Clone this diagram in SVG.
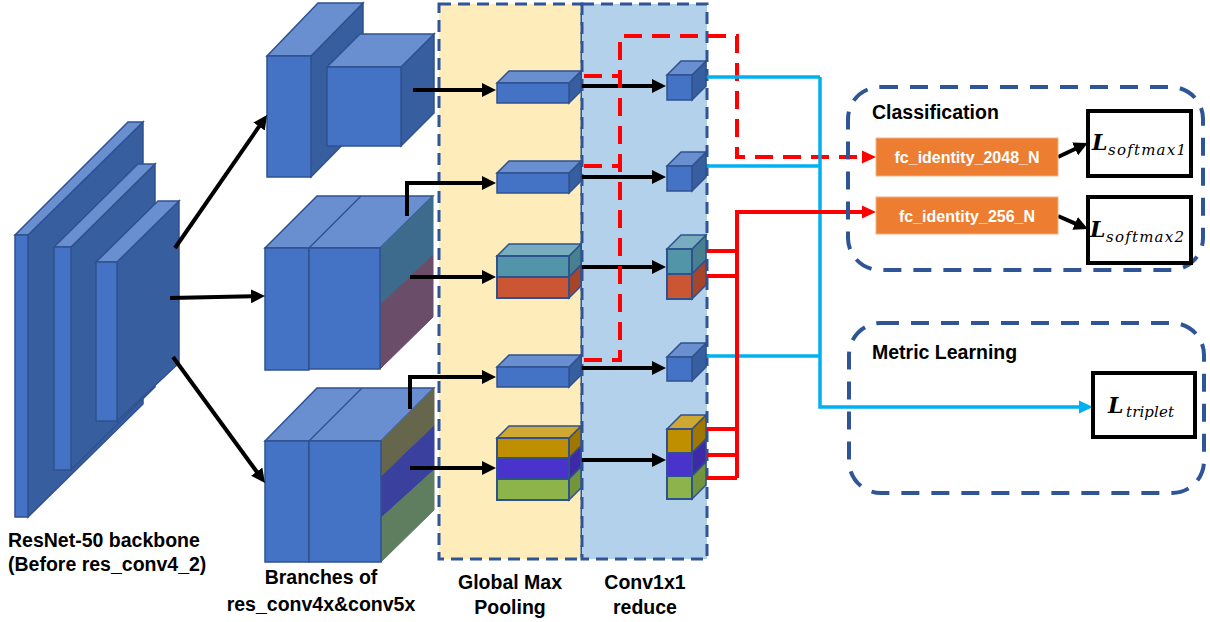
<svg xmlns="http://www.w3.org/2000/svg" width="1210" height="622" viewBox="0 0 1210 622">
  <defs>
    <style>
      .fr { fill: #4472C4; stroke: #2F528F; stroke-width: 1.5; }
      .tp { fill: #6A8FD0; stroke: #2F528F; stroke-width: 1.5; }
      .sd { fill: #375E9F; stroke: #2F528F; stroke-width: 1.5; }
      .edge { fill: none; stroke: #2F528F; stroke-width: 1.5; }
      .col { stroke: #2F5597; stroke-width: 3; stroke-dasharray: 12 7; }
      .grp { fill: none; stroke: #2F5597; stroke-width: 4; stroke-dasharray: 18 12; }
      .blk { fill: none; stroke: #000; stroke-width: 4; }
      .reddash { fill: none; stroke: #FF0000; stroke-width: 4; stroke-dasharray: 18 10; }
      .red { fill: none; stroke: #FF0000; stroke-width: 4; }
      .cyan { fill: none; stroke: #00B0F0; stroke-width: 3.5; }
      .lbl { font-family: "Liberation Sans", Arial, sans-serif; font-weight: bold; font-size: 19.5px; fill: #000; }
      .fc { fill: #ED7D31; stroke: #F4B183; stroke-width: 1; }
      .fct { font-family: "Liberation Sans", Arial, sans-serif; font-weight: bold; font-size: 16px; fill: #fff; text-anchor: middle; }
      .loss { fill: #fff; stroke: #000; stroke-width: 4; }
      .L { font-family: "DejaVu Serif", "Liberation Serif", serif; font-style: italic; font-weight: bold; font-size: 22px; fill: #000; }
      .sub { font-family: "DejaVu Serif", "Liberation Serif", serif; font-style: italic; font-size: 15px; fill: #000; }
    </style>
    <marker id="ah" viewBox="0 0 14 14" markerWidth="14" markerHeight="14" refX="1" refY="7" orient="auto" markerUnits="userSpaceOnUse">
      <path d="M0,0 L14,7 L0,14 z" fill="#000"/>
    </marker>
    <marker id="ahr" viewBox="0 0 14 14" markerWidth="14" markerHeight="14" refX="1" refY="7" orient="auto" markerUnits="userSpaceOnUse">
      <path d="M0,0.5 L14,7 L0,13.5 z" fill="#FF0000"/>
    </marker>
    <marker id="ahc" viewBox="0 0 14 14" markerWidth="14" markerHeight="14" refX="1" refY="7" orient="auto" markerUnits="userSpaceOnUse">
      <path d="M0,0.5 L14,7 L0,13.5 z" fill="#00B0F0"/>
    </marker>
  </defs>

  <rect width="1210" height="622" fill="#fff"/>

  <!-- stage columns -->
  <g id="col-gmp">
    <rect class="col" x="439" y="4" width="143" height="555" fill="#FFECBB"/>
  </g>
  <g id="col-conv">
    <rect class="col" x="582" y="4" width="125" height="555" fill="#B4D1EB"/>
  </g>

  <!-- ResNet-50 backbone: three stacked slabs -->
  <g id="backbone">
    <polygon class="sd" points="28,235 143,122 143,404 28,517"/>
    <polygon class="tp" points="15,235 28,235 143,122 128,122"/>
    <rect class="fr" x="15" y="235" width="13" height="282"/>
    <polygon class="sd" points="71,247 155,164 155,387 71,470"/>
    <polygon class="tp" points="54,247 71,247 155,164 138,164"/>
    <rect class="fr" x="54" y="247" width="17" height="223"/>
    <polygon class="sd" points="117,262 179,201 179,363 117,421"/>
    <polygon class="tp" points="96,262 117,262 179,201 158,201"/>
    <rect class="fr" x="96" y="262" width="21" height="159"/>
  </g>

  <!-- branch 1 -->
  <g id="branch1">
    <polygon class="sd" points="311,56 363,3 363,124 311,177"/>
    <polygon class="tp" points="267,56 311,56 363,3 318,3"/>
    <rect class="fr" x="267" y="56" width="44" height="121"/>
    <polygon class="sd" points="401,67 434,34 434,113 401,146"/>
    <polygon class="tp" points="327,67 401,67 434,34 360,34"/>
    <rect class="fr" x="327" y="67" width="74" height="79"/>
  </g>

  <!-- branch 2 -->
  <g id="branch2">
    <polygon class="tp" points="265,248 380,248 433,196 317,196"/>
    <line class="edge" x1="309" y1="248" x2="361" y2="196"/>
    <polygon points="380,248 433,196 433,255 380,305" fill="#3D6B8D" stroke="#3D6B8D" stroke-width="1"/>
    <polygon points="380,305 433,255 433,317 380,369" fill="#6A4D69" stroke="#6A4D69" stroke-width="1"/>
    <rect class="fr" x="265" y="248" width="44" height="122"/>
    <rect class="fr" x="309" y="248" width="71" height="121"/>
  </g>

  <!-- branch 3 -->
  <g id="branch3">
    <polygon class="tp" points="265,441 381,441 434,388 317,388"/>
    <line class="edge" x1="309" y1="441" x2="362" y2="388"/>
    <polygon points="381,441 434,388 434,426 381,477" fill="#66664C" stroke="#66664C" stroke-width="1"/>
    <polygon points="381,477 434,426 434,470 381,518" fill="#3A409E" stroke="#3A409E" stroke-width="1"/>
    <polygon points="381,518 434,470 434,510 381,562" fill="#5F7E5F" stroke="#5F7E5F" stroke-width="1"/>
    <rect class="fr" x="265" y="441" width="44" height="121"/>
    <rect class="fr" x="309" y="441" width="72" height="121"/>
  </g>

  <!-- connectors -->
  <g id="connectors">
    <!-- backbone to branches -->
    <line class="blk" x1="175" y1="248" x2="259.6" y2="125.7" stroke-width="4.5" marker-end="url(#ah)"/>
    <line class="blk" x1="170" y1="298" x2="252" y2="296.3" stroke-width="4.5" marker-end="url(#ah)"/>
    <line class="blk" x1="173" y1="357" x2="257.3" y2="472.5" stroke-width="4.5" marker-end="url(#ah)"/>
    <!-- branches to pooling -->
    <line class="blk" x1="413" y1="90" x2="483" y2="90" marker-end="url(#ah)"/>
    <polyline class="blk" points="407,216 407,183 483,183" marker-end="url(#ah)"/>
    <line class="blk" x1="410" y1="277" x2="483" y2="277" marker-end="url(#ah)"/>
    <polyline class="blk" points="410,409 410,377 483,377" marker-end="url(#ah)"/>
    <line class="blk" x1="410" y1="468" x2="483" y2="468" marker-end="url(#ah)"/>
    <!-- pooling to 1x1 reduce -->
    <line class="blk" x1="581" y1="86" x2="653" y2="86" marker-end="url(#ah)"/>
    <line class="blk" x1="581" y1="177" x2="653" y2="177" marker-end="url(#ah)"/>
    <line class="blk" x1="581" y1="267" x2="653" y2="267" marker-end="url(#ah)"/>
    <line class="blk" x1="581" y1="368" x2="653" y2="368" marker-end="url(#ah)"/>
    <line class="blk" x1="581" y1="460" x2="653" y2="460" marker-end="url(#ah)"/>
    <!-- pooled global features to fc_identity_2048_N -->
    <polyline class="reddash" points="584,76 620,76"/>
    <polyline class="reddash" points="584,166 620,166"/>
    <polyline class="reddash" points="584,360 620,360 620,36 737,36 737,157 863,157" marker-end="url(#ahr)"/>
    <!-- reduced global features to triplet loss -->
    <polyline class="cyan" points="706,77 820,77"/>
    <polyline class="cyan" points="706,166 820,166"/>
    <polyline class="cyan" points="706,356 820,356"/>
    <polyline class="cyan" points="820,77 820,407 1080,407" marker-end="url(#ahc)"/>
    <!-- reduced part features to fc_identity_256_N -->
    <line class="red" x1="706" y1="251" x2="737" y2="251"/>
    <line class="red" x1="706" y1="276" x2="737" y2="276"/>
    <line class="red" x1="706" y1="429" x2="737" y2="429"/>
    <line class="red" x1="706" y1="455" x2="737" y2="455"/>
    <line class="red" x1="706" y1="478" x2="737" y2="478"/>
    <polyline class="red" points="737,478 737,212 863,212" marker-end="url(#ahr)"/>
    <!-- fc to losses -->
    <line class="blk" x1="1058" y1="157" x2="1076" y2="148.5" marker-end="url(#ah)"/>
    <line class="blk" x1="1058" y1="216" x2="1076" y2="223.8" marker-end="url(#ah)"/>
  </g>

  <!-- global max pooling outputs -->
  <g id="gmp1">
    <polygon class="sd" points="569,83 581,71 581,91 569,103"/>
    <polygon class="tp" points="497,83 569,83 581,71 509,71"/>
    <rect class="fr" x="497" y="83" width="72" height="20" stroke-width="2"/>
  </g>
  <g id="gmp2">
    <polygon class="sd" points="569,173 581,161 581,181 569,193"/>
    <polygon class="tp" points="497,173 569,173 581,161 509,161"/>
    <rect class="fr" x="497" y="173" width="72" height="20" stroke-width="2"/>
  </g>
  <g id="gmp3">
    <polygon points="569,256 581,244 581,265 569,277" fill="#47808F" stroke="#2F528F" stroke-width="1.5"/>
    <polygon points="569,277 581,265 581,286 569,298" fill="#A6452A" stroke="#2F528F" stroke-width="1.5"/>
    <polygon points="497,256 569,256 581,244 509,244" fill="#78ADBF" stroke="#2F528F" stroke-width="1.5"/>
    <rect x="497" y="256" width="72" height="21" fill="#5294A8" stroke="#2F528F" stroke-width="2"/>
    <rect x="497" y="277" width="72" height="21" fill="#CB5633" stroke="#2F528F" stroke-width="2"/>
  </g>
  <g id="gmp4">
    <polygon class="sd" points="569,367 581,355 581,375 569,387"/>
    <polygon class="tp" points="497,367 569,367 581,355 509,355"/>
    <rect class="fr" x="497" y="367" width="72" height="20" stroke-width="2"/>
  </g>
  <g id="gmp5">
    <polygon points="569,438 581,426 581,446 569,458" fill="#9F7700" stroke="#2F528F" stroke-width="1.5"/>
    <polygon points="569,458 581,446 581,467 569,479" fill="#3E2AA8" stroke="#2F528F" stroke-width="1.5"/>
    <polygon points="569,479 581,467 581,488 569,500" fill="#72943A" stroke="#2F528F" stroke-width="1.5"/>
    <polygon points="497,438 569,438 581,426 509,426" fill="#CFA733" stroke="#2F528F" stroke-width="1.5"/>
    <rect x="497" y="438" width="72" height="20" fill="#BF8F00" stroke="#2F528F" stroke-width="2"/>
    <rect x="497" y="458" width="72" height="21" fill="#4A32CC" stroke="#2F528F" stroke-width="2"/>
    <rect x="497" y="479" width="72" height="21" fill="#8DB44B" stroke="#2F528F" stroke-width="2"/>
  </g>

  <!-- 1x1 conv reduced outputs -->
  <g id="red1">
    <polygon class="sd" points="692,75 706,61 706,86 692,100"/>
    <polygon class="tp" points="667,75 692,75 706,61 681,61"/>
    <rect class="fr" x="667" y="75" width="25" height="25" stroke-width="2"/>
  </g>
  <g id="red2">
    <polygon class="sd" points="692,166 706,152 706,177 692,191"/>
    <polygon class="tp" points="667,166 692,166 706,152 681,152"/>
    <rect class="fr" x="667" y="166" width="25" height="25" stroke-width="2"/>
  </g>
  <g id="red3">
    <polygon points="692,249 706,235 706,260 692,274" fill="#47808F" stroke="#2F528F" stroke-width="1.5"/>
    <polygon points="692,274 706,260 706,285 692,299" fill="#A6452A" stroke="#2F528F" stroke-width="1.5"/>
    <polygon points="667,249 692,249 706,235 681,235" fill="#78ADBF" stroke="#2F528F" stroke-width="1.5"/>
    <rect x="667" y="249" width="25" height="25" fill="#5294A8" stroke="#2F528F" stroke-width="2"/>
    <rect x="667" y="274" width="25" height="25" fill="#CB5633" stroke="#2F528F" stroke-width="2"/>
  </g>
  <g id="red4">
    <polygon class="sd" points="692,357 706,343 706,367 692,381"/>
    <polygon class="tp" points="667,357 692,357 706,343 681,343"/>
    <rect class="fr" x="667" y="357" width="25" height="24" stroke-width="2"/>
  </g>
  <g id="red5">
    <polygon points="692,429 706,415 706,439 692,453" fill="#9F7700" stroke="#2F528F" stroke-width="1.5"/>
    <polygon points="692,453 706,439 706,462 692,476" fill="#3E2AA8" stroke="#2F528F" stroke-width="1.5"/>
    <polygon points="692,476 706,462 706,485 692,499" fill="#72943A" stroke="#2F528F" stroke-width="1.5"/>
    <polygon points="667,429 692,429 706,415 681,415" fill="#CFA733" stroke="#2F528F" stroke-width="1.5"/>
    <rect x="667" y="429" width="25" height="24" fill="#BF8F00" stroke="#2F528F" stroke-width="2"/>
    <rect x="667" y="453" width="25" height="23" fill="#4A32CC" stroke="#2F528F" stroke-width="2"/>
    <rect x="667" y="476" width="25" height="23" fill="#8DB44B" stroke="#2F528F" stroke-width="2"/>
  </g>

  <!-- classification head -->
  <g id="classification">
    <rect class="grp" x="848" y="87" width="355" height="183" rx="32"/>
    <text class="lbl" x="872" y="119" font-size="18.5">Classification</text>
  </g>
  <g id="fc2048">
    <rect class="fc" x="876" y="138" width="182" height="38"/>
    <text class="fct" x="967" y="163">fc_identity_2048_N</text>
  </g>
  <g id="fc256">
    <rect class="fc" x="876" y="197" width="182" height="37"/>
    <text class="fct" x="967" y="221.5">fc_identity_256_N</text>
  </g>
  <g id="loss-softmax1">
    <rect class="loss" x="1088" y="111" width="103" height="65"/>
    <text class="L" x="1092" y="150">L</text>
    <text class="sub" x="1108" y="155" textLength="78" lengthAdjust="spacing">softmax1</text>
  </g>
  <g id="loss-softmax2">
    <rect class="loss" x="1088" y="197" width="103" height="66"/>
    <text class="L" x="1090" y="237">L</text>
    <text class="sub" x="1106" y="242" textLength="78" lengthAdjust="spacing">softmax2</text>
  </g>

  <!-- metric learning head -->
  <g id="metric">
    <rect class="grp" x="849" y="323" width="355" height="170" rx="32"/>
    <text class="lbl" x="872" y="359" font-size="18.5">Metric Learning</text>
  </g>
  <g id="loss-triplet">
    <rect class="loss" x="1093" y="373" width="102" height="64"/>
    <text class="L" x="1108" y="413">L</text>
    <text class="sub" x="1126" y="417" textLength="48" lengthAdjust="spacing">triplet</text>
  </g>

  <!-- captions -->
  <g id="captions">
    <text class="lbl" x="8" y="547">ResNet-50 backbone</text>
    <text class="lbl" x="8" y="571">(Before res_conv4_2)</text>
    <text class="lbl" x="321" y="584" text-anchor="middle">Branches of</text>
    <text class="lbl" x="321" y="611" text-anchor="middle">res_conv4x&amp;conv5x</text>
    <text class="lbl" x="510" y="589" text-anchor="middle">Global Max</text>
    <text class="lbl" x="510" y="614" text-anchor="middle">Pooling</text>
    <text class="lbl" x="645" y="589" text-anchor="middle">Conv1x1</text>
    <text class="lbl" x="645" y="614" text-anchor="middle">reduce</text>
  </g>
</svg>
